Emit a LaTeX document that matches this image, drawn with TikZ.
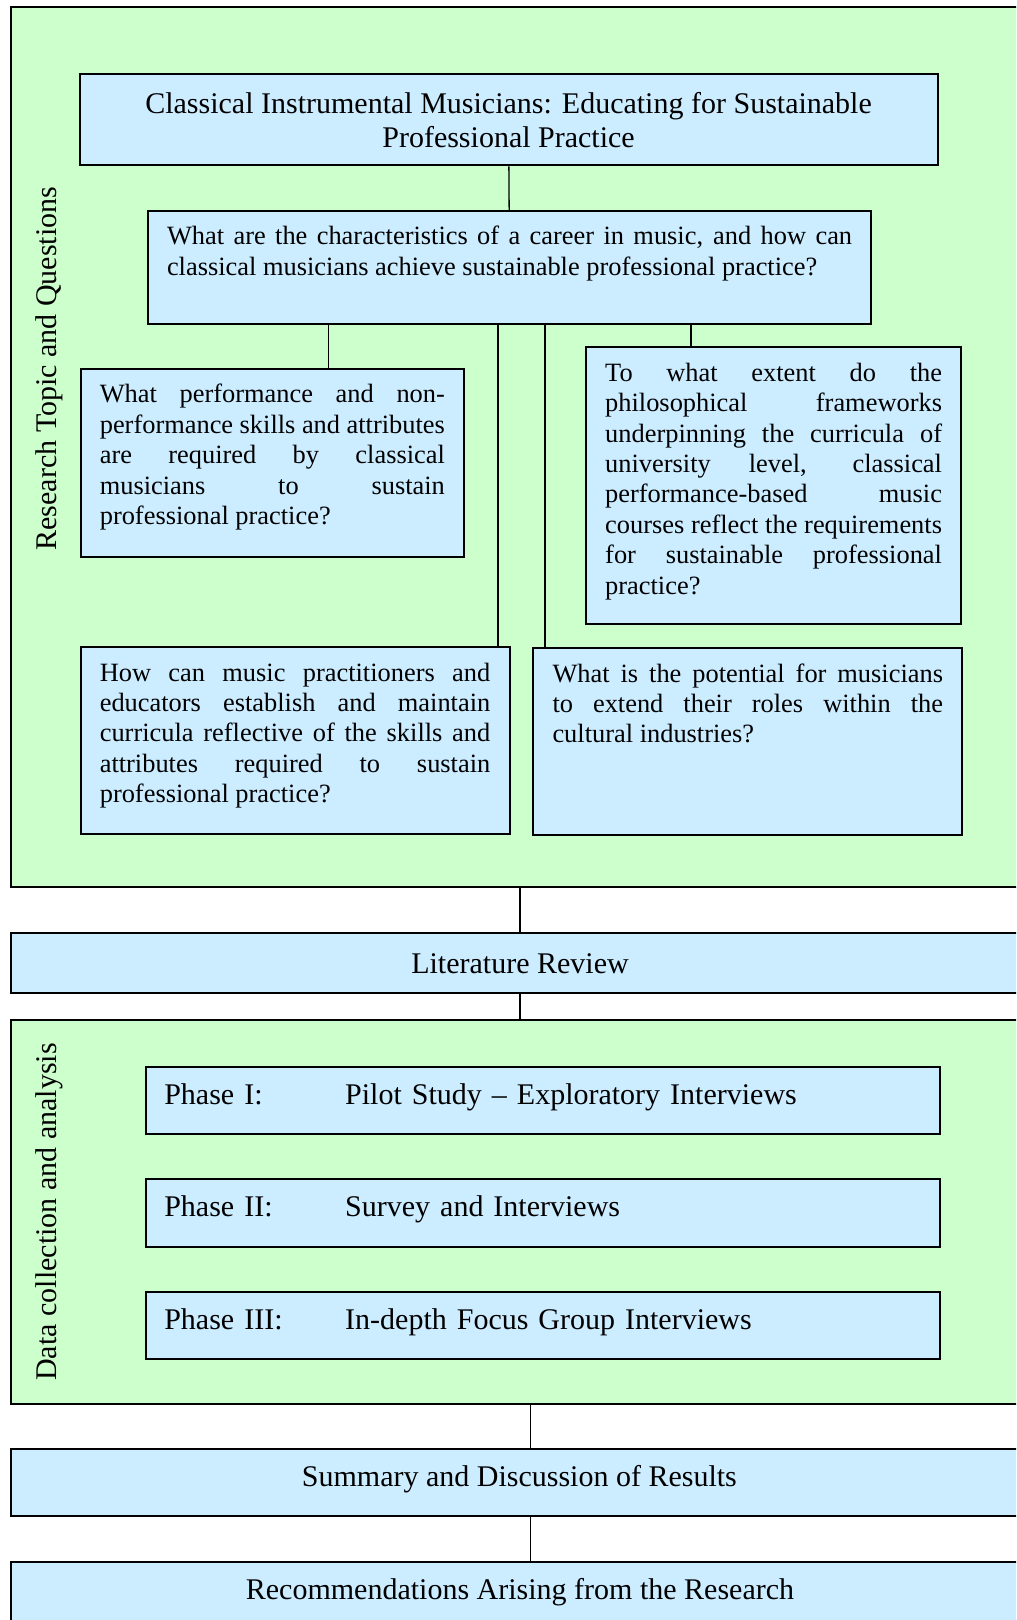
\documentclass[tikz,border=0pt]{standalone}
\usepackage{fontspec}
\setmainfont{Liberation Serif}
\usepackage{xcolor}
\usetikzlibrary{positioning, calc}

\definecolor{panelgreen}{HTML}{CCFFCC}
\definecolor{boxblue}{HTML}{CCECFF}

\newcommand{\bigtext}{\fontsize{15}{16.8}\selectfont}
\newcommand{\qtext}{\fontsize{13.2}{15.2}\selectfont\tolerance=10000\hbadness=10000\hyphenpenalty=10000}

\begin{document}
\begin{tikzpicture}[
  x=0.5pt, y=-0.5pt,
  panel/.style={draw, fill=panelgreen, line width=1pt, inner sep=0pt},
  block/.style={draw, fill=boxblue, line width=1pt, font=\bigtext, align=center, inner sep=0pt},
  question/.style={draw, fill=boxblue, line width=1pt, anchor=north west, font=\qtext, align=justify,
    inner xsep=9.6pt, inner ysep=7pt, text height=10pt},
  phase/.style={draw, fill=boxblue, line width=1pt, anchor=north west, font=\bigtext, align=left,
    text width=378.3pt, inner xsep=9.3pt, inner ysep=7.75pt, text height=11pt, text depth=7.1pt},
  side/.style={rotate=90, font=\bigtext},
  link/.style={line width=0.65pt}
]
\useasboundingbox (0,0) rectangle (1016,1620);
\clip (0,0) rectangle (1016,1620);

% --- green panels (run off the right edge) ---
\node[panel, minimum width=509.3pt, minimum height=439.8pt] (topic) at (520.7,447) {};
\node[panel, minimum width=509.3pt, minimum height=191.7pt] (data) at (520.7,1211.9) {};
\node[side] (topiclabel) at (49.6,368.6) {Research Topic and Questions};
\node[side] (datalabel) at (49.6,1212) {Data collection and analysis};

% --- research topic and questions ---
\node[block, minimum width=428.95pt, minimum height=45.5pt] (title) at (508.55,119.9)
  {Classical Instrumental Musicians: Educating for Sustainable\\Professional Practice};
\node[question, text width=342.55pt, text depth=32.85pt] (qmain) at (146.8,209.8)
  {What are the characteristics of a career in music, and how can\linebreak
   classical musicians achieve sustainable professional practice?};
\node[question, text width=172.55pt, text depth=70pt] (q1) at (79.6,368)
  {What performance and non-\linebreak performance skills and attributes\linebreak
   are required by classical\linebreak musicians to sustain\linebreak
   professional practice?};
\node[question, text width=168.4pt, text depth=114.5pt] (q2) at (585,346.3)
  {To what extent do the\linebreak philosophical frameworks\linebreak
   underpinning the curricula of\linebreak university level, classical\linebreak
   performance-based music\linebreak courses reflect the requirements\linebreak
   for sustainable professional\linebreak practice?};
\node[question, text width=195.25pt, text depth=69.55pt] (q3) at (79.6,646)
  {How can music practitioners and\linebreak educators establish and maintain\linebreak
   curricula reflective of the skills and\linebreak attributes required to sustain\linebreak
   professional practice?};
\node[question, text width=195.25pt, text depth=69.55pt] (q4) at (532.3,647)
  {What is the potential for musicians\linebreak to extend their roles within the\linebreak
   cultural industries?};

\draw[link] (title) -- (qmain);
% main question fans out to the four sub-questions
\foreach \f/\q in {0.25/q1, 0.484/q3, 0.549/q4, 0.75/q2}
  \draw[link] ($(qmain.south west)!\f!(qmain.south east)$) coordinate (tap) -- (tap |- \q.north);

% --- literature review ---
\node[block, minimum width=508.6pt, minimum height=30pt] (litrev) at (520,963.3) {Literature Review};
\draw[link] (topic.south -| litrev.north) -- (litrev.north);
\draw[link] (litrev.south) -- (litrev.south |- data.north);

% --- data collection phases ---
\node[phase] (phase1) at (144.7,1065.6) {\makebox[90.45pt][l]{Phase I:}Pilot Study -- Exploratory Interviews};
\node[phase] (phase2) at (144.7,1178.3) {\makebox[90.45pt][l]{Phase II:}Survey and Interviews};
\node[phase] (phase3) at (144.7,1291) {\makebox[90.45pt][l]{Phase III:}In-depth Focus Group Interviews};

% --- results and recommendations ---
\node[block, minimum width=508pt, minimum height=33.6pt, text depth=6.4pt] (summary) at (519.4,1482.7) {Summary and Discussion of Results};
\node[block, minimum width=508.6pt, minimum height=33.6pt, text depth=6.4pt] (recs) at (520,1595.4) {Recommendations Arising from the Research};

\coordinate (spine) at (530.2,1400);
\draw[link] (data.south -| spine) -- (summary.north -| spine);
\draw[link] (summary.south -| spine) -- (recs.north -| spine);
\end{tikzpicture}
\end{document}
